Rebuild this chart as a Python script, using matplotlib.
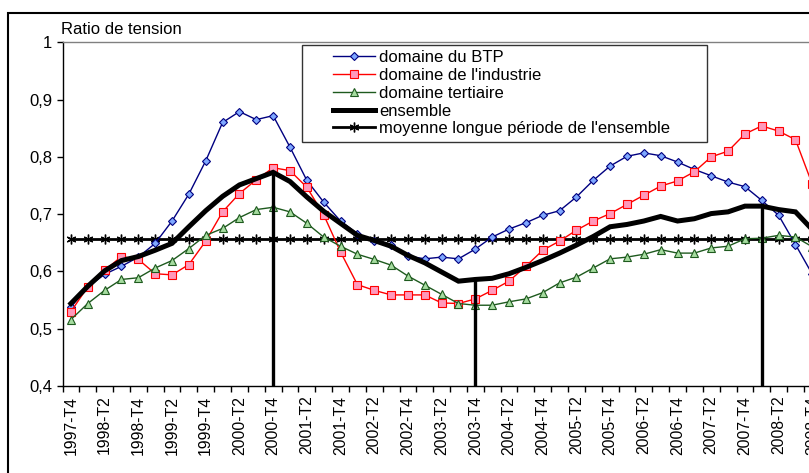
import matplotlib
matplotlib.use("Agg")
import matplotlib.pyplot as plt
from matplotlib.patches import Rectangle
import numpy as np

plt.rcParams['font.family'] = ['Liberation Sans', 'DejaVu Sans']

# Categories: quarters 1997-T4 .. 2008-T4
quarters = ["1997-T4"] + [f"{y}-T{q}" for y in range(1998, 2009) for q in (1, 2, 3, 4)]

btp = [0.538, 0.573, 0.595, 0.609, 0.625, 0.649, 0.688, 0.735, 0.793, 0.860,
       0.879, 0.865, 0.872, 0.817, 0.759, 0.721, 0.688, 0.666, 0.654, 0.647,
       0.627, 0.622, 0.625, 0.622, 0.639, 0.660, 0.674, 0.685, 0.698, 0.706,
       0.730, 0.759, 0.784, 0.801, 0.807, 0.802, 0.791, 0.778, 0.767, 0.756,
       0.748, 0.724, 0.698, 0.647, 0.595]
industrie = [0.530, 0.573, 0.602, 0.626, 0.621, 0.596, 0.594, 0.612, 0.653, 0.704,
             0.736, 0.760, 0.781, 0.776, 0.747, 0.699, 0.634, 0.577, 0.567, 0.559,
             0.559, 0.559, 0.545, 0.544, 0.552, 0.567, 0.583, 0.609, 0.637, 0.653,
             0.672, 0.688, 0.701, 0.717, 0.733, 0.749, 0.758, 0.774, 0.800, 0.810,
             0.840, 0.854, 0.845, 0.830, 0.752]
tertiaire = [0.516, 0.544, 0.567, 0.586, 0.589, 0.606, 0.619, 0.640, 0.663, 0.675,
             0.694, 0.708, 0.712, 0.704, 0.684, 0.660, 0.644, 0.630, 0.621, 0.611,
             0.592, 0.576, 0.560, 0.544, 0.541, 0.541, 0.547, 0.552, 0.563, 0.580,
             0.590, 0.606, 0.622, 0.625, 0.630, 0.638, 0.632, 0.632, 0.641, 0.644,
             0.657, 0.658, 0.663, 0.660, 0.643]
ensemble = [0.544, 0.574, 0.601, 0.619, 0.626, 0.637, 0.649, 0.678, 0.706, 0.731,
            0.751, 0.762, 0.773, 0.757, 0.730, 0.705, 0.684, 0.663, 0.654, 0.644,
            0.628, 0.615, 0.599, 0.583, 0.586, 0.588, 0.596, 0.607, 0.619, 0.632,
            0.646, 0.661, 0.678, 0.682, 0.688, 0.696, 0.688, 0.692, 0.701, 0.704,
            0.714, 0.714, 0.708, 0.704, 0.673]
moyenne = 0.657
turning_points = ["2000-T4", "2003-T4", "2008-T1"]

labels = ["domaine du BTP", "domaine de l'industrie", "domaine tertiaire",
          "ensemble", "moyenne longue période de l'ensemble"]

W, H = 809, 473
fig = plt.figure(figsize=(W / 100, H / 100), dpi=100)

n = len(quarters)
cat_w = 16.85
ax_left = 62.5
ax_bottom = 386.0
ax_top = 42.3
ax = fig.add_axes([ax_left / W, (H - ax_bottom) / H, n * cat_w / W, (ax_bottom - ax_top) / H])

x = np.arange(n)
h1, = ax.plot(x, btp, color='#000080', lw=1.0, marker='D', ms=4.5, mfc='#7FA8FF', mec='#000080', mew=0.8, zorder=4)
h2, = ax.plot(x, industrie, color='#FF0000', lw=1.0, marker='s', ms=5.5, mfc='#FF99BB', mec='#FF0000', mew=0.8, zorder=4)
h3, = ax.plot(x, tertiaire, color='#1E5A1E', lw=1.0, marker='^', ms=6, mfc='#A6DCA0', mec='#1E5A1E', mew=0.8, zorder=4)
h4, = ax.plot(x, ensemble, color='black', lw=3.6, zorder=5, solid_joinstyle='miter')
h5, = ax.plot(x, [moyenne] * n, color='black', lw=2.0, marker=(6, 2, 0), ms=7, mew=1.0, zorder=3)

for tp in turning_points:
    i = quarters.index(tp)
    ax.plot([i, i], [0.4, ensemble[i]], color='black', lw=2.4, zorder=5, solid_capstyle='butt')

ax.set_xlim(-0.5, n - 0.5)
ax.set_ylim(0.4, 1.0)
ax.set_yticks(np.arange(0.4, 1.01, 0.1))
ax.set_yticklabels([f"{v:.1f}".replace('.', ',').replace('1,0', '1') for v in np.arange(0.4, 1.01, 0.1)])
ax.set_xticks(np.arange(-0.5, n, 1.0))
ax.set_xticklabels([])
ax.set_xticks(np.arange(0, n, 2), minor=True)
ax.set_xticklabels([quarters[i] for i in range(0, n, 2)], minor=True, rotation=90, fontsize=11.3)
ax.tick_params(axis='x', which='major', length=4, width=1, direction='out')
ax.tick_params(axis='x', which='minor', length=0, pad=7)
ax.tick_params(axis='y', length=4.5, width=1, direction='out', labelsize=12, pad=3)

for s in ['left', 'bottom']:
    ax.spines[s].set_color('black')
    ax.spines[s].set_linewidth(1.0)
ax.spines['top'].set_color('#808080')
ax.spines['top'].set_linewidth(1.0)
ax.spines['right'].set_visible(False)

fig.text(61 / W, 1 - 34.3 / H, "Ratio de tension", fontsize=12, va='baseline', ha='left')

# Legend
leg = fig.legend([h1, h2, h3, h4, h5], labels, loc='upper left',
                 bbox_to_anchor=(333 / W, 1 - 50 / H), frameon=False, fontsize=12,
                 handlelength=2.5, handletextpad=0.25, labelspacing=0.17, borderpad=0,
                 borderaxespad=0)
fig.patches.append(Rectangle((302 / W, 1 - 142 / H), (707 - 302) / W, (142 - 45) / H,
                             transform=fig.transFigure, fill=False, edgecolor='#333333', lw=1.0))

# Outer chart frame
fig.patches.append(Rectangle((8.3 / W, -0.2), 2.0, 1 - 13 / H + 0.2,
                             transform=fig.transFigure, fill=False, edgecolor='black', lw=1.5))

fig.savefig("out.png", dpi=100)
